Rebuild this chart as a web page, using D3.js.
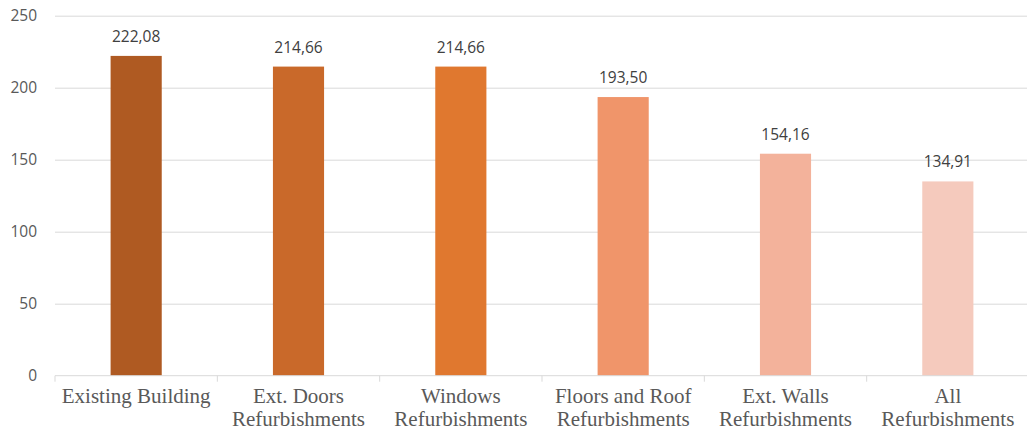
<!DOCTYPE html>
<html>
<head>
<meta charset="utf-8">
<script src="https://cdn.jsdelivr.net/npm/d3@7"></script>
<style>
  body { margin: 0; background: #fff; }
  .grid line { stroke: #d9d9d9; }
  .grid .domain { display: none; }
</style>
</head>
<body>
<div id="chart"></div>
<script>
// Data
const categories = [
  ["Existing Building"],
  ["Ext. Doors", "Refurbishments"],
  ["Windows", "Refurbishments"],
  ["Floors and Roof", "Refurbishments"],
  ["Ext. Walls", "Refurbishments"],
  ["All", "Refurbishments"]
];
const values = [222.08, 214.66, 214.66, 193.50, 154.16, 134.91];
const barColors = ["#af5a22", "#c9692a", "#e0782f", "#f0956a", "#f3b29b", "#f5cabd"];
const yTicks = [0, 50, 100, 150, 200, 250];

const W = 1027, H = 432;
const margin = {left: 55, right: 1029, top: 15.7, bottom: 375.7};

const svg = d3.select("#chart")
  .append("svg")
    .attr("width", W)
    .attr("height", H);

const x = d3.scaleBand()
  .domain(d3.range(values.length))
  .range([margin.left, margin.right])
  .padding(0);

const y = d3.scaleLinear()
  .domain([0, 250])
  .range([margin.bottom, margin.top]);

// Gridlines
svg.append("g")
  .attr("class", "grid")
  .attr("transform", `translate(${margin.left},0)`)
  .call(d3.axisLeft(y).tickValues(yTicks.slice(1)).tickSize(-(W - margin.left)).tickFormat(""));

// Y tick labels
svg.append("g")
  .selectAll("text")
  .data(yTicks)
  .join("text")
    .attr("x", 37)
    .attr("y", d => y(d) + 5)
    .attr("text-anchor", "end")
    .attr("font-family", "Open Sans, sans-serif")
    .attr("font-size", 15.5)
    .attr("fill", "#595959")
    .text(d => d);

// Bars
const barW = x.bandwidth() * 0.315;
svg.append("g")
  .selectAll("rect")
  .data(values)
  .join("rect")
    .attr("x", (d, i) => x(i) + (x.bandwidth() - barW) / 2)
    .attr("y", d => y(d))
    .attr("width", barW)
    .attr("height", d => y(0) - y(d))
    .attr("fill", (d, i) => barColors[i]);

// Value labels
svg.append("g")
  .selectAll("text")
  .data(values)
  .join("text")
    .attr("x", (d, i) => x(i) + x.bandwidth() / 2)
    .attr("y", d => y(d) - 14)
    .attr("text-anchor", "middle")
    .attr("font-family", "Open Sans, sans-serif")
    .attr("font-size", 15.5)
    .attr("fill", "#404040")
    .text(d => d3.format(".2f")(d).replace(".", ","));

// X axis baseline with boundary ticks
const xAxis = svg.append("g");
xAxis.append("line")
  .attr("x1", margin.left).attr("x2", W)
  .attr("y1", margin.bottom).attr("y2", margin.bottom)
  .attr("stroke", "#d9d9d9");
xAxis.selectAll("line.tick")
  .data(d3.range(values.length + 1))
  .join("line")
    .attr("class", "tick")
    .attr("x1", i => margin.left + i * x.bandwidth())
    .attr("x2", i => margin.left + i * x.bandwidth())
    .attr("y1", margin.bottom).attr("y2", margin.bottom + 6)
    .attr("stroke", "#d9d9d9");

// Category labels
const labels = svg.append("g")
  .selectAll("text")
  .data(categories)
  .join("text")
    .attr("x", (d, i) => x(i) + x.bandwidth() / 2)
    .attr("y", 403)
    .attr("text-anchor", "middle")
    .attr("font-family", "Liberation Serif, Times New Roman, serif")
    .attr("font-size", 21)
    .attr("fill", "#595959");
labels.selectAll("tspan")
  .data(d => d)
  .join("tspan")
    .attr("x", function() { return d3.select(this.parentNode).attr("x"); })
    .attr("dy", (d, j) => j === 0 ? 0 : 23)
    .text(d => d);
</script>
</body>
</html>
